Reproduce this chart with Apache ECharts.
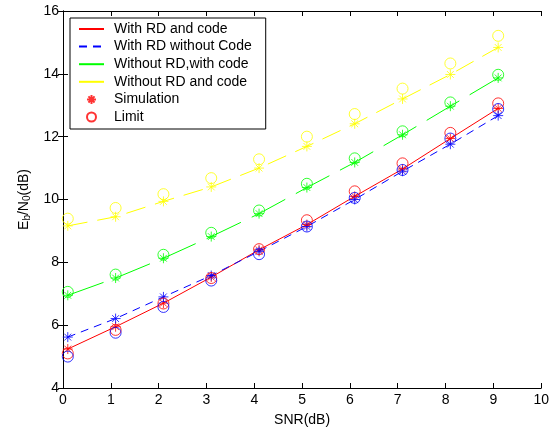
<!DOCTYPE html>
<html>
<head>
<meta charset="utf-8">
<script src="https://cdn.jsdelivr.net/npm/echarts@6/dist/echarts.min.js"></script>
<style>
  html, body { margin: 0; padding: 0; background: #fff; }
  #main { width: 552px; height: 432px; }
</style>
</head>
<body>
<div id="main"></div>
<script>
// SNR positions of the markers
var snr = [0.1, 1.1, 2.1, 3.1, 4.1, 5.1, 6.1, 7.1, 8.1, 9.1];

// simulation (*) and limit (o) values, Eb/N0 in dB
var redSim    = [5.24, 5.95, 6.70, 7.53, 8.40, 9.20, 10.10, 10.97, 11.94, 12.90];
var redLim    = [5.10, 5.85, 6.69, 7.50, 8.42, 9.34, 10.26, 11.15, 12.12, 13.06];
var blueSim   = [5.62, 6.21, 6.90, 7.58, 8.35, 9.14, 10.00, 10.90, 11.76, 12.67];
var blueLim   = [5.00, 5.76, 6.58, 7.42, 8.26, 9.14, 10.05, 10.94, 11.94, 12.88];
var greenSim  = [6.95, 7.50, 8.13, 8.82, 9.55, 10.38, 11.18, 12.06, 12.97, 13.87];
var greenLim  = [7.06, 7.61, 8.24, 8.94, 9.65, 10.50, 11.31, 12.17, 13.09, 13.97];
var yellowSim = [9.16, 9.45, 9.94, 10.40, 11.00, 11.69, 12.41, 13.20, 13.98, 14.84];
var yellowLim = [9.39, 9.73, 10.17, 10.68, 11.28, 12.00, 12.72, 13.53, 14.33, 15.21];

var lineNames = ['With RD and code', 'With RD without Code', 'Without RD,with code', 'Without RD and code'];

var RED = '#ff0000', BLUE = '#0000ff', GREEN = '#00ff00', YELLOW = '#ffff00';
var STAR = 'path://M5 0 L5 10 M0 5 L10 5 M1.6 1.6 L8.4 8.4 M1.6 8.4 L8.4 1.6';
var FONT = 'Liberation Sans, Arial, sans-serif';

function pairs(ys) {
  return snr.map(function (x, i) { return [x, ys[i]]; });
}

function lineSeries(name, ys, color, type) {
  return {
    name: name, type: 'line', data: pairs(ys),
    symbol: 'none', silent: true, z: 2,
    itemStyle: { color: color },
    lineStyle: { color: color, width: 1, type: type }
  };
}

function starSeries(name, ys, color) {
  return {
    name: name, type: 'scatter', data: pairs(ys),
    symbol: STAR, symbolSize: 10, z: 3,
    itemStyle: { color: 'rgba(0,0,0,0)', borderColor: color, borderWidth: 1 }
  };
}

function circleSeries(name, ys, color) {
  return {
    name: name, type: 'scatter', data: pairs(ys),
    symbol: 'circle', symbolSize: 11, z: 4,
    itemStyle: { color: 'rgba(0,0,0,0)', borderColor: color, borderWidth: 1 }
  };
}

var chart = echarts.init(document.getElementById('main'));

var tickStyle = { inside: true, length: 5, lineStyle: { color: '#000' } };
var axisLineStyle = { show: true, lineStyle: { color: '#000', width: 1 } };
var noMarker = { opacity: 0 };

chart.setOption({
  animation: false,
  backgroundColor: '#fff',
  textStyle: { fontFamily: FONT },
  grid: { left: 63, top: 11, right: 4, bottom: 40 },
  legend: {
    orient: 'vertical',
    left: 70, top: 18,
    padding: [4, 14, 5, 8],
    itemWidth: 25, itemHeight: 9, itemGap: 3.6,
    backgroundColor: '#fff',
    borderColor: '#000', borderWidth: 1,
    textStyle: { fontFamily: FONT, fontSize: 14, lineHeight: 14, color: '#000', padding: [0, 0, 0, 5] },
    data: [
      { name: lineNames[0], itemStyle: noMarker },
      { name: lineNames[1], itemStyle: noMarker },
      { name: lineNames[2], itemStyle: noMarker, lineStyle: { type: 'solid' } },
      { name: lineNames[3], itemStyle: noMarker, lineStyle: { type: 'solid' } },
      { name: 'Simulation' },
      { name: 'Limit' }
    ]
  },
  xAxis: [{
    type: 'value', min: 0, max: 10, interval: 1,
    name: 'SNR(dB)', nameLocation: 'middle', nameGap: 25,
    nameTextStyle: { fontFamily: FONT, fontSize: 14, color: '#000' },
    axisLine: axisLineStyle, axisTick: tickStyle,
    axisLabel: { fontFamily: FONT, fontSize: 14, color: '#000', margin: 5 },
    splitLine: { show: false }
  }, {
    type: 'value', min: 0, max: 10, interval: 1, position: 'top',
    axisLine: axisLineStyle, axisTick: tickStyle,
    axisLabel: { show: false }, splitLine: { show: false }
  }],
  yAxis: [{
    type: 'value', min: 4, max: 16, interval: 2,
    name: '{n|E}{s|b}{n|/N}{s|0}{n|(dB)}', nameLocation: 'middle', nameGap: 27, nameRotate: 90,
    nameTextStyle: {
      color: '#000',
      rich: {
        n: { fontFamily: FONT, fontSize: 14, color: '#000', lineHeight: 17, verticalAlign: 'middle' },
        s: { fontFamily: FONT, fontSize: 10, color: '#000', lineHeight: 17, verticalAlign: 'bottom', padding: [7, 0, 0, 0] }
      }
    },
    axisLine: axisLineStyle, axisTick: tickStyle,
    axisLabel: { fontFamily: FONT, fontSize: 14, color: '#000', margin: 4 },
    splitLine: { show: false }
  }, {
    type: 'value', min: 4, max: 16, interval: 2, position: 'right',
    axisLine: axisLineStyle, axisTick: tickStyle,
    axisLabel: { show: false }, splitLine: { show: false }
  }],
  series: [
    lineSeries(lineNames[0], redSim, RED, 'solid'),
    lineSeries(lineNames[1], blueSim, BLUE, [8, 6]),
    lineSeries(lineNames[2], greenSim, GREEN, [38, 12]),
    lineSeries(lineNames[3], yellowSim, YELLOW, [20, 10]),
    starSeries('Simulation', redSim, RED),
    starSeries('blue sim', blueSim, BLUE),
    starSeries('green sim', greenSim, GREEN),
    starSeries('yellow sim', yellowSim, YELLOW),
    circleSeries('Limit', redLim, RED),
    circleSeries('blue limit', blueLim, BLUE),
    circleSeries('green limit', greenLim, GREEN),
    circleSeries('yellow limit', yellowLim, YELLOW)
  ]
});
</script>
</body>
</html>
